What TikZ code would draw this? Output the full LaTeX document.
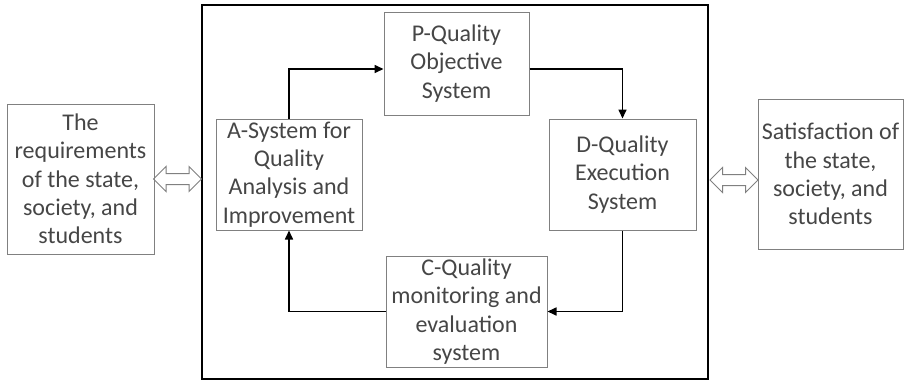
\documentclass[tikz,border=0pt]{standalone}
\usepackage{fontspec}
\setmainfont{Carlito}
\usetikzlibrary{arrows.meta,shapes.arrows}
\definecolor{boxgray}{RGB}{128,128,128}
\definecolor{txtgray}{RGB}{70,70,70}

\begin{document}
\begin{tikzpicture}[x=1pt,y=-1pt,
    box/.style={draw=boxgray,line width=1pt,text=txtgray,align=center,inner sep=0pt,
        font=\fontsize{24}{28.3}\selectfont},
    flow/.style={line width=1.6pt,-{Triangle[length=9pt,width=8pt]}},
    dblarrow/.style={double arrow,draw=boxgray,line width=1pt,minimum height=48pt,
        minimum width=0pt,text height=5pt,text depth=5pt,double arrow head extend=7pt,
        inner sep=0pt}]

\useasboundingbox (0,0) rectangle (906,381);

% Outer frame
\node[draw,line width=1.5pt,minimum width=506pt,minimum height=374pt,inner sep=0pt] (frame) at (455,192) {};

% Outside boxes
\node[box,minimum width=147pt,minimum height=150pt] (req) at (80.5,179) {The\\requirements\\of the state,\\society, and\\students};
\node[box,minimum width=145pt,minimum height=150pt] (sat) at (830.5,174) {Satisfaction of\\the state,\\society, and\\students};

% PDCA cycle
\node[box,minimum width=145pt,minimum height=103pt] (plan) at (456.5,63.5) {P-Quality\\Objective\\System};
\node[box,minimum width=147pt,minimum height=111pt] (do) at (622.5,174.5) {D-Quality\\Execution\\System};
\node[box,minimum width=161pt,minimum height=111pt] (check) at (466.5,311.5) {C-Quality\\monitoring and\\evaluation\\system};
\node[box,minimum width=146pt,minimum height=111pt] (act) at (289,174.5) {A-System for\\Quality\\Analysis and\\Improvement};

% Double arrows
\node[dblarrow] (larr) at (177.5,179) {};
\node[dblarrow] (rarr) at (734,180) {};

% Connections
\draw[flow] (act.north) |- ([yshift=-5.5pt]plan.west);
\draw[flow] ([yshift=-5.5pt]plan.east) -| (do.north);
\draw[flow] (do.south) |- (check.east);
\draw[flow] (check.west) -| (act.south);
\end{tikzpicture}
\end{document}
